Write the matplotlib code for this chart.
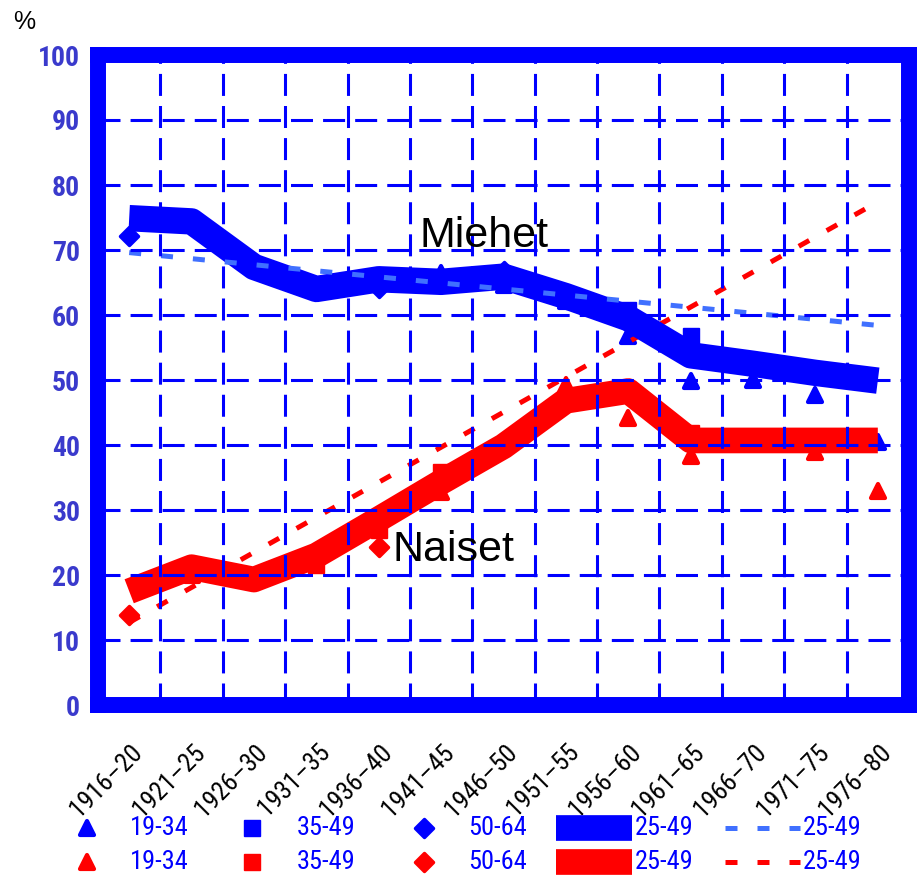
import numpy as np
import matplotlib
matplotlib.use("Agg")
import matplotlib.pyplot as plt
from matplotlib import font_manager as fm
from matplotlib.lines import Line2D
from matplotlib.markers import MarkerStyle
from matplotlib.transforms import ScaledTranslation

# ── Data ─────────────────────────────────────────────────────────────────────

cohorts = ["1916–20", "1921–25", "1926–30", "1931–35", "1936–40", "1941–45",
           "1946–50", "1951–55", "1956–60", "1961–65", "1966–70", "1971–75",
           "1976–80"]

nan = np.nan

# thick lines, age 25-49
men_25_49 = [74.9, 74.4, 67.4, 64.0, 65.5, 65.1, 65.9, 62.9, 59.5, 53.8, 52.5, 51.1, 49.9]
women_25_49 = [17.5, 21.2, 19.3, 23.0, 28.6, 34.3, 39.8, 46.8, 48.3, 40.7, 40.7, 40.7, 40.7]

# dashed trend lines, age 25-49 (first and last cohort)
trend_cohorts = ["1916–20", "1976–80"]
men_trend = [69.6, 58.4]
women_trend = [12.7, 77.4]

# markers (only those visible in the picture)
men_19_34 = [nan, nan, nan, nan, nan, 66.4, 64.6, 62.2, 56.7, 49.8, 50.0, 47.7, 40.5]
men_35_49 = [nan, nan, nan, nan, nan, nan, nan, nan, 60.8, 56.8, nan, nan, nan]
men_50_64 = [72.1, nan, nan, nan, 64.2, nan, 66.8, nan, nan, nan, nan, nan, nan]
women_19_34 = [nan, 20.0, nan, nan, nan, 32.8, nan, 49.2, 44.2, 38.3, nan, 38.9, 33.0]
women_35_49 = [nan, nan, nan, 21.5, 27.0, 35.8, nan, nan, nan, 41.8, nan, nan, nan]
women_50_64 = [13.9, nan, nan, nan, 24.3, nan, 40.0, nan, nan, nan, nan, nan, nan]

legend_labels = ["19-34", "35-49", "50-64", "25-49", "25-49"]

BLUE = "#0000ff"
RED = "#ff0000"
LIGHT_BLUE = "#4070ff"
TICK_BLUE = "#3a3acc"

# pick a condensed face for the numbers (the original uses a condensed grotesque)
_installed = {f.name for f in fm.fontManager.ttflist}
_narrow = [n for n in ("Roboto Condensed", "Archivo Narrow", "PT Sans Narrow",
                       "Sofia Sans Condensed", "Saira SemiCondensed")
           if n in _installed]
NARROW = _narrow[:1] + ["DejaVu Sans"]
ARIAL = ["Liberation Sans", "DejaVu Sans"]

W, H = 918, 880


def fx(px):
    return px / W


def fy(py):
    return 1 - py / H


# ── Figure ───────────────────────────────────────────────────────────────────

fig = plt.figure(figsize=(W / 100, H / 100), dpi=100)
ax = fig.add_axes([fx(98), fy(705), fx(909) - fx(98), fy(55) - fy(705)])

x = np.arange(len(cohorts))
tx = [cohorts.index(c) for c in trend_cohorts]

tri = MarkerStyle("^", joinstyle="round")
sq = MarkerStyle("s")
dia = MarkerStyle("D", joinstyle="round")
mk_tri = dict(ms=10.5, mew=3)
mk_sq = dict(ms=11, mew=1)
mk_dia = dict(ms=9, mew=2.5)
dash_kw = dict(lw=3.6, dashes=(2.4, 4.0), dash_capstyle="butt")

# markers sit beneath the thick lines
for vals, col in ((men_19_34, BLUE), (women_19_34, RED)):
    ax.plot(x, vals, ls="none", marker=tri, color=col, zorder=1.9, **mk_tri)
for vals, col in ((men_35_49, BLUE), (women_35_49, RED)):
    ax.plot(x, vals, ls="none", marker=sq, color=col, zorder=1.9, **mk_sq)
for vals, col in ((men_50_64, BLUE), (women_50_64, RED)):
    ax.plot(x, vals, ls="none", marker=dia, color=col, zorder=1.9, **mk_dia)

ax.plot(tx, women_trend, color=RED, zorder=1.95, **dash_kw)

ax.plot(x, men_25_49, color=BLUE, lw=19, solid_capstyle="butt",
        solid_joinstyle="round", zorder=2)
ax.plot(x, women_25_49, color=RED, lw=18.5, solid_capstyle="butt",
        solid_joinstyle="round", zorder=2)

ax.plot(tx, men_trend, color=LIGHT_BLUE, zorder=2.2, **dash_kw)

ax.set_xlim(-0.5, len(cohorts) - 0.5)
ax.set_ylim(0, 100)

# grid drawn on top of the lines
ax.set_axisbelow(False)
ax.set_xticks(x)
ax.set_xticks(np.arange(0.5, len(cohorts) - 1, 1.0), minor=True)
ax.set_yticks(np.arange(0, 101, 10))
ax.grid(which="minor", axis="x", color=BLUE, lw=2.2, dashes=(7.2, 3.3))
ax.grid(which="major", axis="y", color=BLUE, lw=2.2, dashes=(7.2, 3.3))
ax.grid(which="major", axis="x", visible=False)

ax.tick_params(which="both", length=0)
ax.tick_params(axis="y", pad=13)
ax.tick_params(axis="x", pad=25)

ax.set_yticklabels([str(v) for v in range(0, 101, 10)], color=TICK_BLUE,
                   fontsize=20, family=NARROW, fontweight="bold")
ax.set_xticklabels(cohorts, rotation=45, ha="right", va="top",
                   rotation_mode="anchor", fontsize=18.5, family=NARROW,
                   color="black")
offset = ScaledTranslation(1 / 100, 0, fig.dpi_scale_trans)
for lbl in ax.get_xticklabels():
    lbl.set_transform(lbl.get_transform() + offset)

for s in ax.spines.values():
    s.set_linewidth(11.5)
    s.set_color(BLUE)
    s.set_capstyle("projecting")

ax.text(4.65, 70.4, "Miehet", fontsize=31, family=ARIAL, color="black",
        ha="left", va="baseline", zorder=5)
ax.text(4.22, 22.1, "Naiset", fontsize=31, family=ARIAL, color="black",
        ha="left", va="baseline", zorder=5)

fig.text(fx(24), fy(22), "%", fontsize=18, family=ARIAL, ha="center", va="center")

# ── Legend (two rows: men blue, women red) ───────────────────────────────────

rows = [(828, BLUE, LIGHT_BLUE), (862, RED, RED)]
marker_cols = [(87, tri, mk_tri), (252, sq, mk_sq), (424, dia, mk_dia)]
text_x = [130, 297, 468, 635, 803]

for ry, col, dcol in rows:
    for (mx, m, kw) in marker_cols:
        fig.add_artist(Line2D([fx(mx)], [fy(ry)], ls="none", marker=m, color=col,
                              transform=fig.transFigure, **kw))
    fig.add_artist(Line2D([fx(556), fx(632)], [fy(ry), fy(ry)], color=col, lw=18.5,
                          solid_capstyle="butt", transform=fig.transFigure))
    fig.add_artist(Line2D([fx(725), fx(800)], [fy(ry), fy(ry)], color=dcol,
                          transform=fig.transFigure, **dash_kw))
    for tx_px, lab in zip(text_x, legend_labels):
        fig.text(fx(tx_px), fy(ry), lab, color=BLUE, fontsize=19, family=NARROW,
                 ha="left", va="center")

fig.savefig("out.png", dpi=100)
